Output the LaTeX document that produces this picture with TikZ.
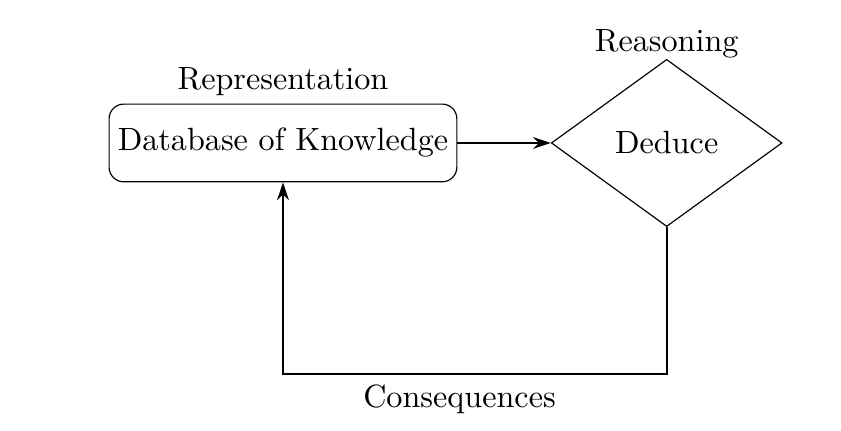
\documentclass[tikz,border=0pt]{standalone}
\usepackage{tikz}
\usetikzlibrary{arrows.meta, shapes.geometric, positioning, calc}
\tikzset{
	knowbox/.style={rectangle, draw, rounded corners=5pt, minimum width=4.16cm, minimum height=0.93cm, inner sep=2pt},
	decide/.style={diamond, draw, minimum width=2.76cm, minimum height=2cm, inner sep=0pt},
	flow/.style={draw, thick, -{Stealth[length=6pt, width=4pt]}}
}
\begin{document}
\begin{tikzpicture}[font=\fontsize{10.95pt}{13.6pt}\selectfont]
		\useasboundingbox (-3.385,-3.445) rectangle (6.675,1.71);
		\node[knowbox, label={[yshift=-1pt]above:Representation}] (db) at (0,0) {Database of Knowledge};
		\node[decide, label={[yshift=-3.3pt]above:Reasoning}] (ded) at (4.59,0) {Deduce};
		\coordinate (turn) at ($(ded.south)+(0,-1.76)$);
		\draw[flow] (db) -- (ded);
		\draw[flow] (ded.south) -- (turn) -- node[pos=0.54, below] (cons) {Consequences} (turn -| db.south) -- (db.south);
		\end{tikzpicture}
\end{document}
